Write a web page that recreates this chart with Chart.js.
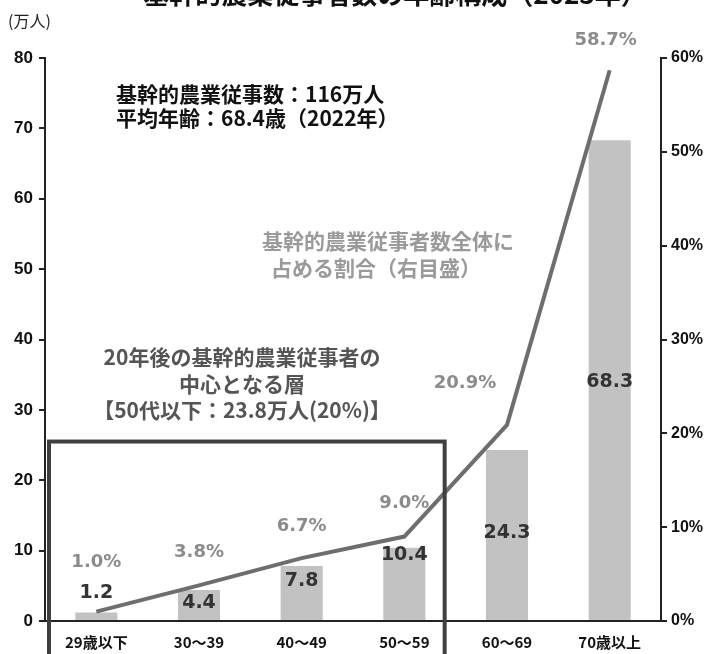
<!DOCTYPE html>
<html>
<head>
<meta charset="utf-8">
<script src="https://cdn.jsdelivr.net/npm/chart.js@4"></script>
<style>
  html, body { margin: 0; padding: 0; background: #fff; }
  #wrap { width: 706px; height: 654px; position: relative; }
</style>
</head>
<body>
<div id="wrap"><canvas id="c" width="706" height="654"></canvas></div>
<script>
// data
const ageGroups = ['29歳以下', '30～39', '40～49', '50～59', '60～69', '70歳以上'];
const workers = [1.2, 4.4, 7.8, 10.4, 24.3, 68.3];      // 万人
const shares = [1.0, 3.8, 6.7, 9.0, 20.9, 58.7];        // %
const leftTicks = [0, 10, 20, 30, 40, 50, 60, 70, 80];
const rightTicks = [0, 10, 20, 30, 40, 50, 60];

// label placement (left-axis units for bar values, pixel offsets for % labels)
const valueLabelAt = [4.0, 2.6, 5.7, 9.4, 12.5, 34];
const shareLabelOffset = [[0, -49], [0, -33], [0, -32], [0, -33], [-42, -42], [-4, -30]];

const JP = '"Noto Sans CJK JP", sans-serif';
const NUM = '"Liberation Sans Narrow", "Liberation Sans", "Noto Sans CJK JP", sans-serif';
const WIDE = '"DejaVu Sans", "Noto Sans CJK JP", sans-serif';

function txt(ctx, s, x, y, font, color, align) {
  ctx.font = font;
  ctx.fillStyle = color;
  ctx.textAlign = align || 'center';
  ctx.textBaseline = 'middle';
  ctx.fillText(s, x, y);
}

const notes = {
  id: 'notes',
  afterDatasetsDraw(chart) {
    const ctx = chart.ctx;
    const x = chart.scales.x, y = chart.scales.y, y1 = chart.scales.y1;
    const area = chart.chartArea;
    ctx.save();

    // value labels on bars
    workers.forEach((v, i) => {
      txt(ctx, v.toFixed(1), x.getPixelForValue(i), y.getPixelForValue(valueLabelAt[i]),
        'bold 19px ' + WIDE, '#333');
    });
    // share labels near line points
    shares.forEach((v, i) => {
      const o = shareLabelOffset[i];
      txt(ctx, v.toFixed(1) + '%', x.getPixelForValue(i) + o[0], y1.getPixelForValue(v) + o[1],
        'bold 18px ' + WIDE, '#8c8c8c');
    });

    // title (cut off at the top)
    txt(ctx, '基幹的農業従事者数の年齢構成（2023年）', 395, -6, 'bold 26px ' + JP, '#111');
    txt(ctx, '(万人)', 8, 21, '16px ' + JP, '#222', 'left');

    txt(ctx, '基幹的農業従事数：116万人', 116, 94, 'bold 21px ' + JP, '#111', 'left');
    txt(ctx, '平均年齢：68.4歳（2022年）', 116, 118, 'bold 21px ' + JP, '#111', 'left');

    txt(ctx, '基幹的農業従事者数全体に', 388, 241, 'bold 21px ' + JP, '#9a9a9a');
    txt(ctx, '占める割合（右目盛）', 376, 268, 'bold 21px ' + JP, '#9a9a9a');

    txt(ctx, '20年後の基幹的農業従事者の', 242, 357, 'bold 21px ' + JP, '#555');
    txt(ctx, '中心となる層', 242, 384, 'bold 21px ' + JP, '#555');
    txt(ctx, '【50代以下：23.8万人(20%)】', 242, 410, 'bold 21px ' + JP, '#555');

    // box round the under-60 groups
    const bx0 = area.left + 4;
    const bx1 = (x.getPixelForValue(3) + x.getPixelForValue(4)) / 2 - 11;
    const by0 = y.getPixelForValue(25.5);
    ctx.strokeStyle = '#404040';
    ctx.lineWidth = 4;
    ctx.strokeRect(bx0, by0, bx1 - bx0, chart.height + 10 - by0);
    ctx.restore();
  }
};

new Chart(document.getElementById('c'), {
  data: {
    labels: ageGroups,
    datasets: [
      {
        type: 'line',
        data: shares,
        yAxisID: 'y1',
        borderColor: '#6e6e6e',
        borderWidth: 4,
        pointRadius: 0,
        tension: 0,
        order: 0
      },
      {
        type: 'bar',
        data: workers,
        yAxisID: 'y',
        backgroundColor: '#c2c2c2',
        categoryPercentage: 1,
        barPercentage: 0.41,
        order: 1
      }
    ]
  },
  options: {
    responsive: false,
    animation: false,
    devicePixelRatio: 1,
    layout: { padding: { top: 58, left: 0, right: 0, bottom: 0 } },
    plugins: { legend: { display: false }, tooltip: { enabled: false }, title: { display: false } },
    scales: {
      x: {
        grid: { display: false },
        border: { display: true, color: '#222', width: 2 },
        ticks: { color: '#111', font: { family: JP, size: 15, weight: 'bold' }, padding: 4, maxRotation: 0 },
        afterFit(s) { s.height = 33; }
      },
      y: {
        position: 'left',
        min: 0, max: 80,
        afterBuildTicks(s) { s.ticks = leftTicks.map(v => ({ value: v })); },
        grid: { drawOnChartArea: false, drawTicks: true, tickLength: 6, color: '#222', lineWidth: 2 },
        border: { display: true, color: '#222', width: 2 },
        ticks: { color: '#111', font: { family: NUM, size: 17, weight: 'bold' }, padding: 6 },
        afterFit(s) { s.width = 45; }
      },
      y1: {
        position: 'right',
        min: 0, max: 60,
        afterBuildTicks(s) { s.ticks = rightTicks.map(v => ({ value: v })); },
        grid: { drawOnChartArea: false, drawTicks: true, tickLength: 6, color: '#222', lineWidth: 2 },
        border: { display: true, color: '#222', width: 2 },
        ticks: { color: '#111', font: { family: NUM, size: 16, weight: 'bold' }, padding: 4, callback: v => v + '%' },
        afterFit(s) { s.width = 45; }
      }
    }
  },
  plugins: [notes]
});
</script>
</body>
</html>
